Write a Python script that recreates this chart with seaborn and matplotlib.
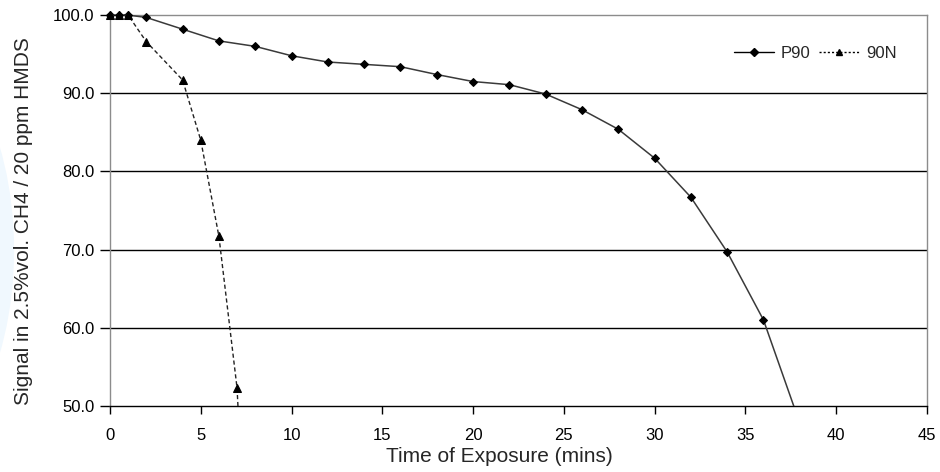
import matplotlib
matplotlib.use("Agg")
import matplotlib.pyplot as plt
from matplotlib.lines import Line2D
from matplotlib.patches import Ellipse
from matplotlib.transforms import Bbox, TransformedBbox
import seaborn as sns
import pandas as pd

# Data
p90_time = [0, 0.5, 1, 2, 4, 6, 8, 10, 12, 14, 16, 18, 20, 22, 24, 26, 28, 30, 32, 34, 36, 38]
p90_signal = [100.0, 100.0, 100.0, 99.7, 98.2, 96.7, 96.0, 94.8, 94.0, 93.7, 93.4, 92.4,
              91.5, 91.1, 89.9, 87.9, 85.4, 81.7, 76.7, 69.7, 61.0, 47.8]

n90_time = [0, 0.5, 1, 2, 4, 5, 6, 7, 8]
n90_signal = [100.0, 100.0, 100.0, 96.6, 91.7, 84.0, 71.7, 52.3, 6.0]

x_ticks = [0, 5, 10, 15, 20, 25, 30, 35, 40, 45]
y_ticks = [50, 60, 70, 80, 90, 100]

p90_df = pd.DataFrame({"time": p90_time, "signal": p90_signal})
n90_df = pd.DataFrame({"time": n90_time, "signal": n90_signal})

sns.set_style("white")
plt.rcParams["font.family"] = ["Liberation Sans", "DejaVu Sans"]

fig = plt.figure(figsize=(9.4, 4.72), dpi=100)
fig.patch.set_facecolor("white")

# faint watermark shape on the left edge (behind everything)
fig.patches.append(Ellipse((-0.12, 0.47), 0.27, 0.95, transform=fig.transFigure,
                           facecolor="#f0f8fe", edgecolor="none", zorder=-5))

ax = fig.add_axes([0.117, 0.140, 0.869, 0.828])
ax.set_facecolor("none")

sns.lineplot(data=p90_df, x="time", y="signal", ax=ax, sort=False, estimator=None,
             color="#3a3a3a", linewidth=1.1, marker="D", markersize=4.5,
             markerfacecolor="black", markeredgecolor="black", zorder=3)
sns.lineplot(data=n90_df, x="time", y="signal", ax=ax, sort=False, estimator=None,
             color="#222222", linewidth=1.0, linestyle=(0, (3, 2)), marker="^",
             markersize=6, markerfacecolor="black", markeredgecolor="black", zorder=3)

# clip only at the bottom/right so markers on the top/left edges stay whole
clip = TransformedBbox(Bbox([[-0.03, 0.0], [1.0, 1.05]]), ax.transAxes)
for line in ax.lines:
    line.set_clip_box(clip)

ax.set_xlim(0, 45)
ax.set_ylim(50, 100)
ax.set_xticks(x_ticks)
ax.set_yticks(y_ticks)
ax.set_yticklabels([f"{v:.1f}" for v in y_ticks])

for v in y_ticks[1:-1]:
    ax.axhline(v, color="black", linewidth=1.0, zorder=1)

for side in ["left", "right", "top"]:
    ax.spines[side].set_color("#8c8c8c")
    ax.spines[side].set_linewidth(1.0)
ax.spines["bottom"].set_color("black")
ax.spines["bottom"].set_linewidth(1.0)

ax.tick_params(axis="x", direction="out", length=6, width=1, color="black",
               labelsize=12, pad=10, labelcolor="black")
ax.tick_params(axis="y", direction="out", length=7, width=1, color="black",
               labelsize=12, pad=4, labelcolor="black")
ax.tick_params(left=True, bottom=True)

ax.set_xlabel("Time of Exposure (mins)", fontsize=15)
ax.set_ylabel("Signal in 2.5%vol. CH4 / 20 ppm HMDS", fontsize=15)
ax.xaxis.set_label_coords(0.477, -0.106)
ax.yaxis.set_label_coords(-0.094, 0.473)

handles = [
    Line2D([], [], color="black", linewidth=1.0, marker="D", markersize=4,
           markerfacecolor="black"),
    Line2D([], [], color="black", linewidth=1.0, linestyle=(0, (1.5, 1.5)), marker="^",
           markersize=5, markerfacecolor="black"),
]
ax.legend(handles, ["P90", "90N"], ncol=2, frameon=False, fontsize=12,
          loc="center right", bbox_to_anchor=(0.971, 0.903),
          handlelength=2.4, handletextpad=0.4, columnspacing=0.5, borderaxespad=0)

fig.savefig("out.png", dpi=100, facecolor="white")
